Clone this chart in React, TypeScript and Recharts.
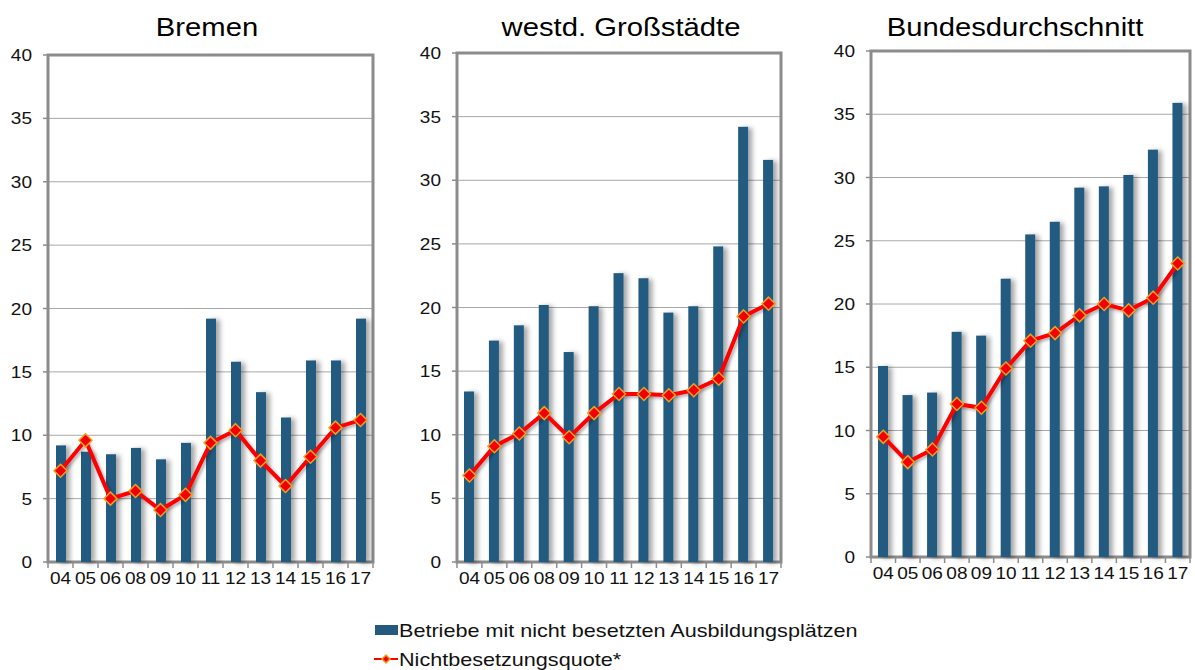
import React from "react";
import {
  ComposedChart,
  Bar,
  Line,
  XAxis,
  YAxis,
  CartesianGrid,
  ReferenceArea,
} from "recharts";

const years = ["04", "05", "06", "08", "09", "10", "11", "12", "13", "14", "15", "16", "17"];

// Betriebe mit nicht besetzten Ausbildungsplätzen (%)
const bremenBetriebe = [9.2, 8.7, 8.5, 9.0, 8.1, 9.4, 19.2, 15.8, 13.4, 11.4, 15.9, 15.9, 19.2];
const westdBetriebe = [13.4, 17.4, 18.6, 20.2, 16.5, 20.1, 22.7, 22.3, 19.6, 20.1, 24.8, 34.2, 31.6];
const bundBetriebe = [15.1, 12.8, 13.0, 17.8, 17.5, 22.0, 25.5, 26.5, 29.2, 29.3, 30.2, 32.2, 35.9];

// Nichtbesetzungsquote* (%)
const bremenQuote = [7.2, 9.6, 5.0, 5.6, 4.1, 5.3, 9.4, 10.4, 8.0, 6.0, 8.3, 10.6, 11.2];
const westdQuote = [6.8, 9.1, 10.1, 11.7, 9.8, 11.7, 13.2, 13.2, 13.1, 13.5, 14.4, 19.3, 20.3];
const bundQuote = [9.5, 7.5, 8.5, 12.1, 11.8, 14.9, 17.1, 17.7, 19.1, 20.0, 19.5, 20.5, 23.2];

const yTicks = [0, 5, 10, 15, 20, 25, 30, 35, 40];

const BAR = "#245a80";
const RED = "#ff0000";
const FRAME = "#8c8c8c";
const GRID = "#a8a8a8";
const FONT = "'Liberation Sans', Arial, sans-serif";

const Diamond = ({ cx, cy, r = 6.5 }: { cx: number; cy: number; r?: number }) => (
  <polygon
    points={`${cx},${cy - r} ${cx + r},${cy} ${cx},${cy + r} ${cx - r},${cy}`}
    fill="#f20000"
    stroke="#f0a020"
    strokeWidth={1.5}
  />
);

interface PanelProps {
  id: string;
  bars: number[];
  quote: number[];
  x0: number; // plot left
  x1: number; // plot right
  y0: number; // plot top
  y1: number; // plot bottom
}

function Panel({ id, bars, quote, x0, x1, y0, y1 }: PanelProps) {
  const axisW = 48;
  const xAxisH = 32;
  const H = 600;
  const W = x1 - x0 + axisW + 6;
  const half = (x1 - x0) / years.length / 2;
  const data = years.map((y, i) => ({ year: y, betriebe: bars[i], quote: quote[i] }));

  const XTick = (p: any) => {
    const { x, y, payload, index } = p;
    return (
      <g>
        <line x1={x - half} x2={x - half} y1={y - 10} y2={y - 4} stroke={FRAME} strokeWidth={1.5} />
        {index === years.length - 1 && (
          <line x1={x + half} x2={x + half} y1={y - 10} y2={y - 4} stroke={FRAME} strokeWidth={1.5} />
        )}
        <text
          transform={`translate(${x},${y}) scale(1.12,1)`}
          dy="0.71em"
          textAnchor="middle"
          fontSize={17}
          fill="#111"
          fontFamily={FONT}
        >
          {payload.value}
        </text>
      </g>
    );
  };

  const YTick = (p: any) => {
    const { x, y, payload } = p;
    return (
      <text
        transform={`translate(${x},${y}) scale(1.12,1)`}
        dy="0.355em"
        textAnchor="end"
        fontSize={17}
        fill="#111"
        fontFamily={FONT}
      >
        {payload.value}
      </text>
    );
  };

  return (
    <div style={{ position: "absolute", left: x0 - axisW, top: 0 }}>
      <ComposedChart
        width={W}
        height={H}
        data={data}
        margin={{ top: y0, right: 6, left: 0, bottom: H - y1 - xAxisH }}
        barCategoryGap={0}
      >
        <defs>
          <filter id={`bs-${id}`} x="-50%" y="-10%" width="250%" height="120%">
            <feDropShadow dx={4} dy={1} stdDeviation={2.5} floodColor="#000" floodOpacity={0.35} />
          </filter>
          <filter id={`ls-${id}`} x="-10%" y="-10%" width="120%" height="130%">
            <feDropShadow dx={2} dy={2} stdDeviation={1.5} floodColor="#000" floodOpacity={0.3} />
          </filter>
        </defs>
        <CartesianGrid vertical={false} stroke={GRID} strokeWidth={1} />
        <XAxis
          dataKey="year"
          height={xAxisH}
          tickSize={6}
          tickMargin={4}
          tickLine={false}
          axisLine={false}
          interval={0}
          tick={XTick}
        />
        <YAxis
          domain={[0, 40]}
          ticks={yTicks}
          width={axisW}
          tickSize={5}
          tickMargin={11}
          tickLine={{ stroke: FRAME, strokeWidth: 1.5 }}
          axisLine={false}
          interval={0}
          tick={YTick}
        />
        <ReferenceArea
          x1={years[0]}
          x2={years[years.length - 1]}
          y1={0}
          y2={40}
          fill="none"
          fillOpacity={0}
          stroke={FRAME}
          strokeWidth={3}
          ifOverflow="visible"
        />
        <Bar
          dataKey="betriebe"
          barSize={10}
          fill={BAR}
          isAnimationActive={false}
          shape={(b: any) => (
            <rect x={b.x} y={b.y} width={b.width} height={b.height} fill={BAR} filter={`url(#bs-${id})`} />
          )}
        />
        <Line
          dataKey="quote"
          stroke={RED}
          strokeWidth={4}
          filter={`url(#ls-${id})`}
          isAnimationActive={false}
          dot={(d: any) => <Diamond key={`dm-${id}-${d.index}`} cx={d.cx} cy={d.cy} />}
          activeDot={false}
        />
      </ComposedChart>
    </div>
  );
}

const titles = [
  { text: "Bremen", x: 207 },
  { text: "westd. Großstädte", x: 621 },
  { text: "Bundesdurchschnitt", x: 1015 },
];

export default function App() {
  return (
    <div
      style={{
        position: "absolute",
        left: 0,
        top: 0,
        width: 1195,
        height: 670,
        background: "#fff",
        fontFamily: FONT,
        overflow: "hidden",
      }}
    >
      <Panel id="p1" bars={bremenBetriebe} quote={bremenQuote} x0={48} x1={373} y0={55} y1={562} />
      <Panel id="p2" bars={westdBetriebe} quote={westdQuote} x0={457} x1={781} y0={53} y1={562} />
      <Panel id="p3" bars={bundBetriebe} quote={bundQuote} x0={871} x1={1190} y0={51} y1={557} />
      <svg
        width={1195}
        height={670}
        style={{ position: "absolute", left: 0, top: 0, pointerEvents: "none" }}
      >
        {titles.map((t) => (
          <text
            key={t.text}
            transform={`translate(${t.x},36) scale(1.17,1)`}
            textAnchor="middle"
            fontSize={25}
            fill="#000"
            fontFamily={FONT}
          >
            {t.text}
          </text>
        ))}
        <rect x={375} y={625} width={23} height={10} fill={BAR} />
        <text transform="translate(399,637) scale(1.2,1)" fontSize={18} fill="#111" fontFamily={FONT}>
          Betriebe mit nicht besetzten Ausbildungsplätzen
        </text>
        <line x1={374} x2={398} y1={659} y2={659} stroke={RED} strokeWidth={2} />
        <Diamond cx={386} cy={659} r={4} />
        <text transform="translate(399,666) scale(1.2,1)" fontSize={18} fill="#111" fontFamily={FONT}>
          Nichtbesetzungsquote*
        </text>
      </svg>
    </div>
  );
}
